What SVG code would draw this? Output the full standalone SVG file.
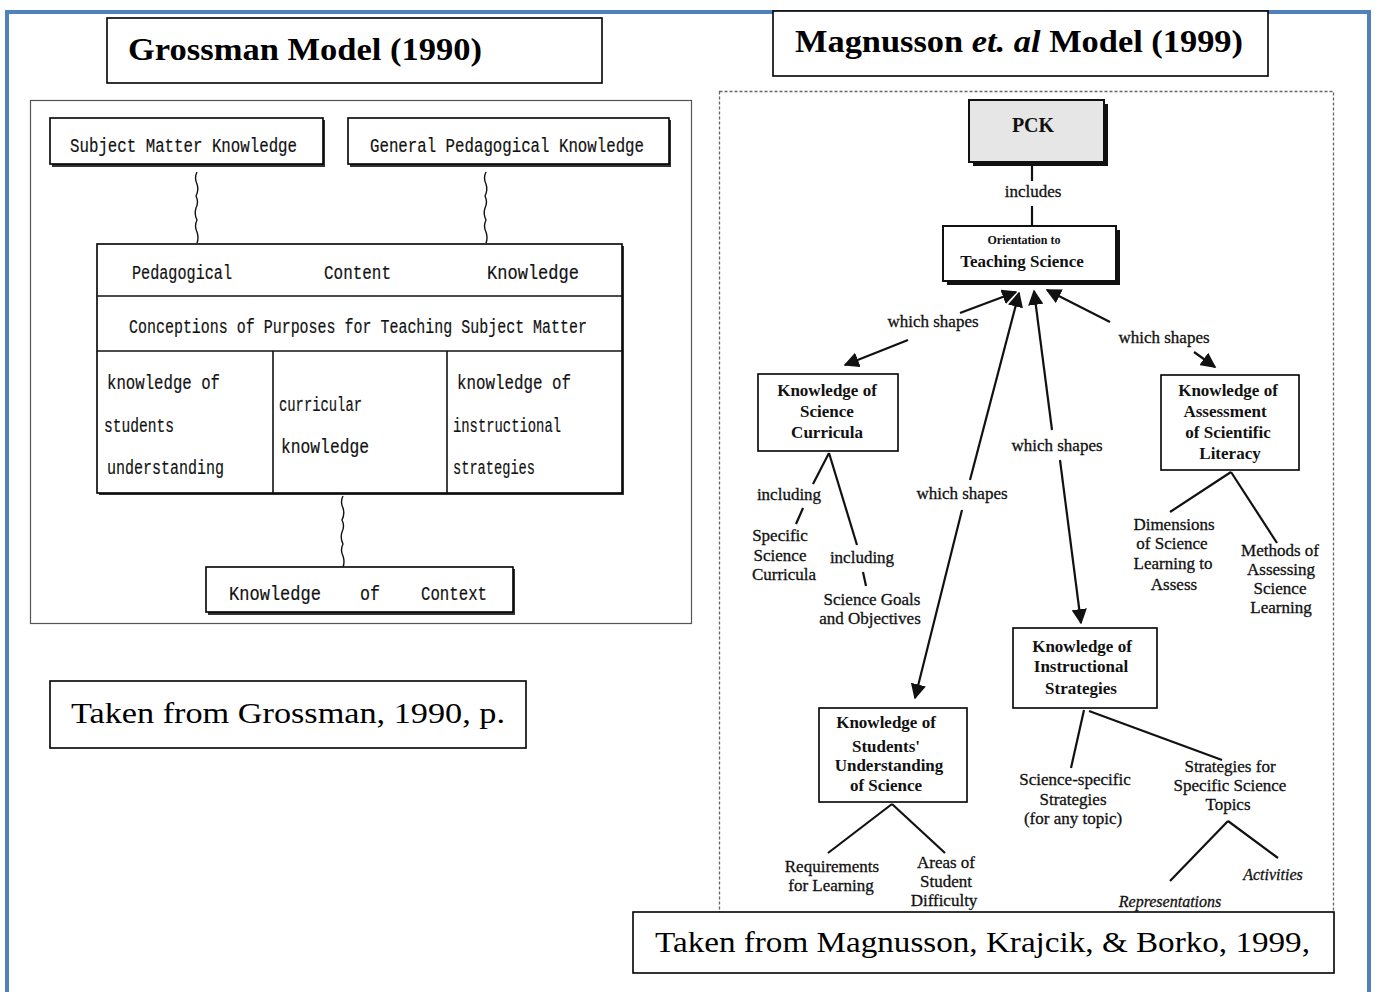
<svg xmlns="http://www.w3.org/2000/svg" width="1376" height="992" viewBox="0 0 1376 992">
<style>
.frame{fill:none;stroke:#4F81BD;stroke-width:4}
.box{fill:#fff;stroke:#000;stroke-width:1.6}
.thin{fill:none;stroke:#555;stroke-width:1.2}
.mono{font-family:"Liberation Mono",monospace;font-size:20px;fill:#111;stroke:#111;stroke-width:0.2}
.title{font-family:"Liberation Serif",serif;font-weight:bold;font-size:31px;fill:#000}
.cap{font-family:"Liberation Serif",serif;font-size:29px;fill:#000}
.nb{font-family:"Liberation Serif",serif;font-weight:bold;font-size:17px;fill:#111;text-anchor:middle}
.lb{font-family:"Liberation Serif",serif;font-size:17px;fill:#111;text-anchor:middle;stroke:#111;stroke-width:0.3}
.it{font-family:"Liberation Serif",serif;font-style:italic;font-size:16px;fill:#111;text-anchor:middle;stroke:#111;stroke-width:0.3}
.ln{stroke:#111;stroke-width:2.2;fill:none}
.wavy{stroke:#111;stroke-width:1.4;fill:none}
.cell{stroke:#111;stroke-width:1.6;fill:none}
</style>
<defs>
<marker id="ah" viewBox="0 0 10 10" refX="9" refY="5" markerWidth="7" markerHeight="7" orient="auto-start-reverse" markerUnits="strokeWidth">
<path d="M0,0 L10,5 L0,10 z" fill="#111"/>
</marker>
</defs>
<rect width="1376" height="992" fill="#fff"/>
<!-- blue page frame -->
<path class="frame" d="M7,1000 L7,12 L1369,12 L1369,1000"/>

<!-- LEFT: Grossman -->
<g id="grossman-title">
<rect class="box" x="107" y="18" width="495" height="65"/>
<text class="title" x="128" y="60" textLength="354" lengthAdjust="spacingAndGlyphs">Grossman Model (1990)</text>
</g>
<rect class="thin" x="30.5" y="100.5" width="661" height="523"/>

<g id="smk">
<rect x="52" y="120" width="273" height="47" fill="#333"/>
<rect class="box" x="50" y="118" width="273" height="46"/>
<text class="mono" x="70" y="152" textLength="227" lengthAdjust="spacingAndGlyphs">Subject Matter Knowledge</text>
</g>
<g id="gpk">
<rect x="350" y="120" width="321" height="47" fill="#333"/>
<rect class="box" x="348" y="118" width="321" height="46"/>
<text class="mono" x="370" y="152" textLength="274" lengthAdjust="spacingAndGlyphs">General Pedagogical Knowledge</text>
</g>

<g id="pck-grossman">
<rect x="99" y="246" width="525" height="249" fill="#333"/>
<rect class="box" x="97" y="244" width="525" height="249"/>
<line class="cell" x1="97" y1="296" x2="622" y2="296"/>
<line class="cell" x1="97" y1="351" x2="622" y2="351"/>
<line class="cell" x1="273" y1="351" x2="273" y2="493"/>
<line class="cell" x1="447" y1="351" x2="447" y2="493"/>
<text class="mono" x="132" y="279" textLength="100" lengthAdjust="spacingAndGlyphs">Pedagogical</text>
<text class="mono" x="324" y="279" textLength="67" lengthAdjust="spacingAndGlyphs">Content</text>
<text class="mono" x="487" y="279" textLength="92" lengthAdjust="spacingAndGlyphs">Knowledge</text>
<text class="mono" x="129" y="333" textLength="458" lengthAdjust="spacingAndGlyphs">Conceptions of Purposes for Teaching Subject Matter</text>
<text class="mono" x="107" y="389" textLength="113" lengthAdjust="spacingAndGlyphs">knowledge of</text>
<text class="mono" x="104" y="432" textLength="70" lengthAdjust="spacingAndGlyphs">students</text>
<text class="mono" x="107" y="474" textLength="117" lengthAdjust="spacingAndGlyphs">understanding</text>
<text class="mono" x="279" y="411" textLength="83" lengthAdjust="spacingAndGlyphs">curricular</text>
<text class="mono" x="281" y="453" textLength="88" lengthAdjust="spacingAndGlyphs">knowledge</text>
<text class="mono" x="457" y="389" textLength="114" lengthAdjust="spacingAndGlyphs">knowledge of</text>
<text class="mono" x="453" y="432" textLength="108" lengthAdjust="spacingAndGlyphs">instructional</text>
<text class="mono" x="453" y="474" textLength="82" lengthAdjust="spacingAndGlyphs">strategies</text>
</g>

<g id="koc">
<rect x="208" y="569" width="307" height="46" fill="#333"/>
<rect class="box" x="206" y="567" width="307" height="45"/>
<text class="mono" x="229" y="600" textLength="92" lengthAdjust="spacingAndGlyphs">Knowledge</text>
<text class="mono" x="360" y="600" textLength="20" lengthAdjust="spacingAndGlyphs">of</text>
<text class="mono" x="421" y="600" textLength="66" lengthAdjust="spacingAndGlyphs">Context</text>
</g>

<g id="grossman-connectors">
<path class="wavy" d="M197,172 q-3,6 0,12 q2,6 -1,12 q3,6 0,12 q-2,6 1,12 q-3,6 0,12 q2,6 0,11"/>
<path class="wavy" d="M486,172 q-3,6 0,12 q2,6 -1,12 q3,6 0,12 q-2,6 1,12 q-3,6 0,12 q2,6 0,11"/>
<path class="wavy" d="M343,496 q-3,6 0,12 q2,6 -1,12 q3,6 0,12 q-2,6 1,12 q-3,6 0,12 q2,6 0,11"/>
</g>

<g id="grossman-caption">
<rect class="box" x="50" y="681" width="476" height="67"/>
<text class="cap" x="71" y="723" textLength="434" lengthAdjust="spacingAndGlyphs">Taken from Grossman, 1990, p.</text>
</g>

<!-- RIGHT: Magnusson -->
<g id="magnusson-title">
<rect class="box" x="773" y="11" width="495" height="65"/>
<text class="title" x="795" y="52" textLength="448" lengthAdjust="spacingAndGlyphs">Magnusson <tspan font-style="italic">et. al</tspan> Model (1999)</text>
</g>
<rect x="719.5" y="91.5" width="614" height="830" fill="none" stroke="#666" stroke-width="1.3" stroke-dasharray="3,2"/>

<g id="pck">
<rect x="973" y="104" width="135" height="62" fill="#111"/>
<rect x="969" y="100" width="135" height="62" fill="#e6e6e6" stroke="#111" stroke-width="2"/>
<text class="nb" x="1033" y="132" style="font-size:20px">PCK</text>
</g>
<g id="orientation">
<rect x="947" y="230" width="173" height="55" fill="#111"/>
<rect x="943" y="226" width="173" height="55" fill="#fff" stroke="#111" stroke-width="2"/>
<text class="nb" x="1024" y="244" style="font-size:12px">Orientation to</text>
<text class="nb" x="1022" y="267">Teaching Science</text>
</g>
<g id="ksc">
<rect class="box" x="758" y="374" width="140" height="77" stroke-width="2"/>
<text class="nb" x="827" y="396">Knowledge of</text>
<text class="nb" x="827" y="417">Science</text>
<text class="nb" x="827" y="438">Curricula</text>
</g>
<g id="kas">
<rect class="box" x="1161" y="375" width="138" height="95" stroke-width="2"/>
<text class="nb" x="1228" y="396">Knowledge of</text>
<text class="nb" x="1225" y="417">Assessment</text>
<text class="nb" x="1228" y="438">of Scientific</text>
<text class="nb" x="1230" y="459">Literacy</text>
</g>
<g id="kis">
<rect class="box" x="1013" y="628" width="144" height="80" stroke-width="2"/>
<text class="nb" x="1082" y="652">Knowledge of</text>
<text class="nb" x="1081" y="672">Instructional</text>
<text class="nb" x="1081" y="694">Strategies</text>
</g>
<g id="ksu">
<rect class="box" x="819" y="708" width="148" height="94" stroke-width="2"/>
<text class="nb" x="886" y="728">Knowledge of</text>
<text class="nb" x="886" y="752">Students'</text>
<text class="nb" x="889" y="771">Understanding</text>
<text class="nb" x="886" y="791">of Science</text>
</g>

<g id="leaf-labels">
<text class="lb" x="789" y="500">including</text>
<text class="lb" x="780" y="541">Specific</text>
<text class="lb" x="780" y="561">Science</text>
<text class="lb" x="784" y="580">Curricula</text>
<text class="lb" x="862" y="563">including</text>
<text class="lb" x="872" y="605">Science Goals</text>
<text class="lb" x="870" y="624">and Objectives</text>
<text class="lb" x="1174" y="530">Dimensions</text>
<text class="lb" x="1172" y="549">of Science</text>
<text class="lb" x="1173" y="569">Learning to</text>
<text class="lb" x="1174" y="590">Assess</text>
<text class="lb" x="1280" y="556">Methods of</text>
<text class="lb" x="1281" y="575">Assessing</text>
<text class="lb" x="1280" y="594">Science</text>
<text class="lb" x="1281" y="613">Learning</text>
<text class="lb" x="1075" y="785">Science-specific</text>
<text class="lb" x="1073" y="805">Strategies</text>
<text class="lb" x="1073" y="824">(for any topic)</text>
<text class="lb" x="1230" y="772">Strategies for</text>
<text class="lb" x="1230" y="791">Specific Science</text>
<text class="lb" x="1228" y="810">Topics</text>
<text class="it" x="1273" y="880">Activities</text>
<text class="it" x="1170" y="907">Representations</text>
<text class="lb" x="832" y="872">Requirements</text>
<text class="lb" x="831" y="891">for Learning</text>
<text class="lb" x="946" y="868">Areas of</text>
<text class="lb" x="946" y="887">Student</text>
<text class="lb" x="944" y="906">Difficulty</text>
</g>

<g id="magnusson-connectors">
<line class="ln" x1="1032" y1="166" x2="1032" y2="181"/>
<text class="lb" x="1033" y="197">includes</text>
<line class="ln" x1="1032" y1="206" x2="1032" y2="226"/>

<line class="ln" x1="960" y1="313" x2="1016" y2="292" marker-end="url(#ah)"/>
<text class="lb" x="933" y="327">which shapes</text>
<line class="ln" x1="908" y1="340" x2="845" y2="365" marker-end="url(#ah)"/>

<line class="ln" x1="1110" y1="322" x2="1047" y2="290" marker-end="url(#ah)"/>
<text class="lb" x="1164" y="343">which shapes</text>
<line class="ln" x1="1194" y1="352" x2="1215" y2="367" marker-end="url(#ah)"/>

<line class="ln" x1="970" y1="480" x2="1019" y2="293" marker-end="url(#ah)"/>
<text class="lb" x="962" y="499">which shapes</text>
<line class="ln" x1="962" y1="510" x2="915" y2="698" marker-end="url(#ah)"/>

<line class="ln" x1="1052" y1="430" x2="1034" y2="291" marker-end="url(#ah)"/>
<text class="lb" x="1057" y="451">which shapes</text>
<line class="ln" x1="1060" y1="460" x2="1081" y2="623" marker-end="url(#ah)"/>

<line class="ln" x1="829" y1="453" x2="813" y2="484"/>
<line class="ln" x1="803" y1="508" x2="796" y2="524"/>
<line class="ln" x1="829" y1="453" x2="857" y2="545"/>
<line class="ln" x1="863" y1="572" x2="866" y2="586"/>

<line class="ln" x1="1231" y1="472" x2="1170" y2="512"/>
<line class="ln" x1="1231" y1="472" x2="1277" y2="543"/>

<line class="ln" x1="1084" y1="710" x2="1071" y2="768"/>
<line class="ln" x1="1089" y1="711" x2="1222" y2="760"/>
<line class="ln" x1="1228" y1="821" x2="1170" y2="881"/>
<line class="ln" x1="1228" y1="821" x2="1278" y2="858"/>

<line class="ln" x1="892" y1="804" x2="828" y2="853"/>
<line class="ln" x1="892" y1="804" x2="945" y2="853"/>
</g>

<g id="magnusson-caption">
<rect class="box" x="633" y="912" width="701" height="61"/>
<text class="cap" x="655" y="952" textLength="655" lengthAdjust="spacingAndGlyphs">Taken from Magnusson, Krajcik, &amp; Borko, 1999,</text>
</g>
</svg>
